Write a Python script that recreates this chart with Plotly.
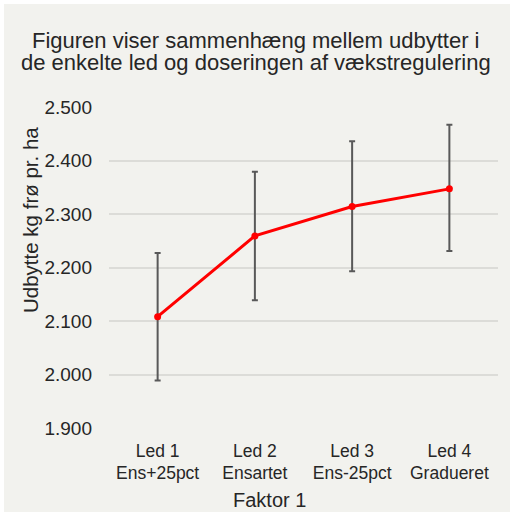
import plotly.graph_objects as go

categories = ["Led 1<br>Ens+25pct", "Led 2<br>Ensartet", "Led 3<br>Ens-25pct", "Led 4<br>Gradueret"]
values = [2108, 2259, 2314, 2347]
err_plus = [119, 120, 122, 120]
err_minus = [119, 120, 121, 116]
y_ticks = [1900, 2000, 2100, 2200, 2300, 2400, 2500]
y_tick_labels = ["1.900", "2.000", "2.100", "2.200", "2.300", "2.400", "2.500"]
title_lines = ["Figuren viser sammenhæng mellem udbytter i",
               "de enkelte led og doseringen af vækstregulering"]
y_title = "Udbytte kg frø pr. ha"
x_title = "Faktor 1"

W, H = 510, 512
L, R, T, B = 109, 12, 107, 84
pw = W - L - R
ph = H - T - B


def py(y_px):
    return (T + ph - y_px) / ph


def px(x_px):
    return (x_px - L) / pw


fig = go.Figure()
fig.add_trace(go.Scatter(
    x=categories, y=values, mode="lines+markers",
    line=dict(color="#ff0000", width=3),
    marker=dict(color="#ff0000", size=7),
    error_y=dict(type="data", symmetric=False, array=err_plus, arrayminus=err_minus,
                 color="#595959", thickness=2, width=3),
    showlegend=False,
))

# white outer border strips (top and left)
fig.add_shape(type="rect", xref="paper", yref="paper",
              x0=px(-2), x1=px(W + 2), y0=py(4), y1=py(-2),
              fillcolor="white", line=dict(width=0), layer="below")
fig.add_shape(type="rect", xref="paper", yref="paper",
              x0=px(-2), x1=px(4), y0=py(H + 2), y1=py(-2),
              fillcolor="white", line=dict(width=0), layer="below")

for txt, ypix in zip(title_lines, [40, 63]):
    fig.add_annotation(text=txt, xref="paper", yref="paper", x=px(256), y=py(ypix),
                       xanchor="center", yanchor="middle", showarrow=False,
                       font=dict(size=22, color="#262626"))

fig.add_annotation(text=y_title, xref="paper", yref="paper", x=px(30), y=py(220),
                   xanchor="center", yanchor="middle", textangle=-90, showarrow=False,
                   font=dict(size=20.5, color="#262626"))
fig.add_annotation(text=x_title, xref="paper", yref="paper", x=px(269), y=py(500),
                   xanchor="center", yanchor="middle", showarrow=False,
                   font=dict(size=20, color="#262626"))

fig.update_layout(
    width=W, height=H,
    margin=dict(l=L, r=R, t=T, b=B, autoexpand=False),
    paper_bgcolor="#f2f2ee", plot_bgcolor="rgba(0,0,0,0)",
    font=dict(family="Liberation Sans, Arial, sans-serif", color="#262626"),
    xaxis=dict(showgrid=False, zeroline=False, showline=False, ticks="", automargin=False,
               tickfont=dict(size=17.5), range=[-0.5, 3.5], ticklabelstandoff=10),
    yaxis=dict(range=[1900, 2500], tickvals=y_ticks, ticktext=y_tick_labels, automargin=False,
               showgrid=True, gridcolor="#dcdcd8", gridwidth=1.5, zeroline=False,
               showline=False, ticks="", tickfont=dict(size=19), ticklabelstandoff=16),
)

fig.write_html("out.html", config={"displayModeBar": False},
               post_script="document.body.style.margin='0';")
